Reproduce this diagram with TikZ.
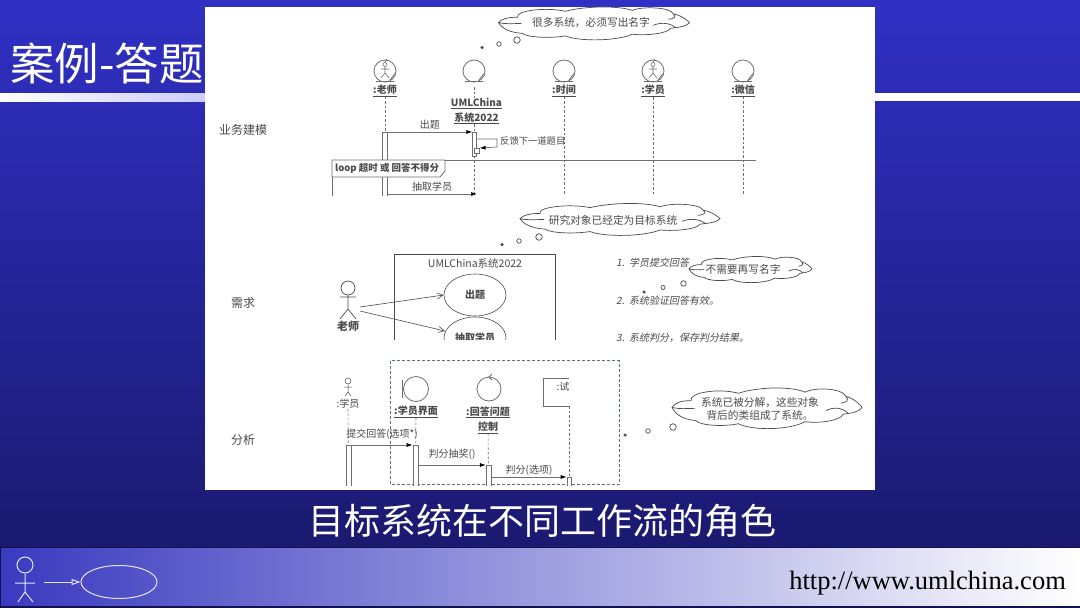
\documentclass[tikz,border=0pt]{standalone}
\usepackage{fontspec}
\usepackage{xcolor}
\usetikzlibrary{arrows.meta,positioning,calc,shapes.geometric}
\setmainfont{Noto Sans CJK SC}
\newfontfamily\slantcjk[FakeSlant=0.2]{Noto Sans CJK SC}
\newfontfamily\urlfont{Liberation Serif}
\definecolor{umlink}{HTML}{4A4A4A}
\definecolor{umlline}{HTML}{6E6E6E}
\definecolor{umldash}{HTML}{5F7080}
\definecolor{slidetop}{HTML}{3030C4}
\definecolor{slidebot}{HTML}{1A1A70}
\definecolor{footleft}{HTML}{3A3AC0}
\definecolor{footmid}{HTML}{A8A8E4}
\definecolor{footedge}{HTML}{12124E}
\definecolor{logoline}{HTML}{E4E4F8}
\newcommand{\fsz}[1]{\fontsize{#1}{#1}\selectfont}
\newcommand{\thinkpath}{(-1,-.08) .. controls (-.97,-.3) and (-.9,-.4) .. (-.8,-.4)
  .. controls (-.82,-.8) and (-.5,-1) .. (-.3,-.75)
  .. controls (-.1,-1.05) and (.25,-1.1) .. (.4,-.8)
  .. controls (.5,-1.05) and (.8,-1) .. (.83,-.6)
  .. controls (.92,-.5) and (.98,-.2) .. (1,-.08)
  .. controls (.98,.1) and (.9,.2) .. (.8,.25)
  .. controls (.78,.55) and (.55,.7) .. (.4,.6)
  .. controls (.25,1) and (-.15,1.05) .. (-.3,.7)
  .. controls (-.45,.85) and (-.7,.8) .. (-.75,.55)
  .. controls (-.9,.5) and (-.97,.2) .. (-1,-.08) -- cycle
  (-1,-.08) .. controls (-.92,.02) and (-.85,-.03) .. (-.76,-.03)
  (.62,.08) .. controls (.7,-.12) and (.8,-.06) .. (.85,.2)
  (.83,-.6) .. controls (.87,-.42) and (.84,-.32) .. (.78,-.28)}

\begin{document}
\begin{tikzpicture}[
    x=1pt, y=-1pt,
    cloudline/.style={draw=umlink, fill=white, line width=.7pt},
    cloudtext/.style={text=umlink, font=\fsz{10.7}, align=center, inner sep=0pt},
    bubble/.style={circle, draw=umlink, fill=white, inner sep=0pt, line width=.7pt},
    lifeline/.style={draw=umlline, dashed, dash pattern=on 2.5pt off 2pt, line width=.6pt},
    act/.style={rectangle, draw=umlline, fill=white, line width=.7pt, anchor=north, minimum width=5pt, inner sep=0pt},
    msg/.style={draw=umlline, line width=.7pt, -{Latex[length=6pt,width=4pt,color=black]}},
    uc/.style={ellipse, draw=umlink, fill=white, line width=.6pt},
    objname/.style={text=umlink, font=\bfseries\fsz{10}, inner sep=0pt},
    msgtext/.style={text=umlink, font=\fsz{10}, inner sep=0pt},
    rowlabel/.style={text=umlink, font=\fsz{12}, inner sep=0pt},
    steptext/.style={text=umlink, font=\slantcjk\fsz{10}, inner sep=0pt, anchor=west},
    objcircle/.style={circle, draw=umlline, line width=.8pt, minimum size=22pt, inner sep=0pt}
]
    % Background
    \useasboundingbox (0,0) rectangle (1080,608);
    \fill[top color=slidetop, bottom color=slidebot] (0,0) rectangle (1080,547);
    \fill[left color=white, right color=white!80!blue] (0,93) rectangle (205,101);
    \fill[white] (875,93) rectangle (1080,101);
    \fill[footedge] (0,547) rectangle (1080,608);
    \fill[left color=footleft, middle color=footmid, right color=white] (1,548) rectangle (1080,605);
    \node[text=white, font=\fsz{44.5}, anchor=west, inner sep=0pt] (title) at (10,63) {案例-答题};
    \node[text=white, font=\fsz{36}, inner sep=0pt] (caption) at (542,521) {目标系统在不同工作流的角色};
    \node[text=black, font=\urlfont\fsz{26.5}, anchor=east, inner sep=0pt] (url) at (1066,583) {http://www.umlchina.com};

    % Footer figure
    \node[circle, draw=logoline, line width=1pt, minimum size=16pt, inner sep=0pt] (logohead) at (25,565) {};
    \coordinate (logoneck) at (25,592);
    \draw[logoline, line width=1pt] (logohead) -- (logoneck) -- (18,602) (logoneck) -- (33,602) (15,583) -- (35,583);
    \node[ellipse, draw=logoline, line width=1pt, minimum width=76pt, minimum height=33pt, inner sep=0pt] (logocase) at (119,582) {};
    \coordinate (logotail) at (44,582);
    \draw[logoline, line width=1pt, -{Triangle[open,length=9pt,width=6pt]}] (logotail) -- (logocase);

    % Panel
    \fill[white] (205,7) rectangle (875,490);
    \node[rowlabel] (rowbiz) at (243,130) {业务建模};
    \node[rowlabel] (rowreq) at (243,303) {需求};
    \node[rowlabel] (rowana) at (243,440) {分析};

    % Business modelling
    \begin{scope}
    \clip (205,7) rectangle (875,195.5);
    \node[objcircle] (teacher) at (385,71) {};
    \node[objcircle] (system) at (474,71) {};
    \node[objcircle] (timer) at (564,71) {};
    \node[objcircle] (student) at (653,71) {};
    \node[objcircle] (wechat) at (743,71) {};
    \draw[umlline, line width=.8pt] (376,81.5) -- (394,81.5) (390,80) -- (395,73.5) (465,81.5) -- (483,81.5) (479,80) -- (484,73.5)
        (555,81.5) -- (573,81.5) (569,80) -- (574,73.5) (644,81.5) -- (662,81.5) (658,80) -- (663,73.5) (734,81.5) -- (752,81.5) (748,80) -- (753,73.5);
    \draw[umlline, line width=.6pt] (385,64.5) circle (2pt) (385,66.5) -- (385,73) -- (381,78) (385,73) -- (389,78) (381,69) -- (389,69) (387,59) -- (385,62.5);
    \draw[umlline, line width=.6pt] (653,64.5) circle (2pt) (653,66.5) -- (653,73) -- (649,78) (653,73) -- (657,78) (649,69) -- (657,69) (655,59) -- (653,62.5);
    \node[objname] (teachername) at (385,91) {\underline{:老师}};
    \node[objname, align=center] (systemname) at (476.5,111) {\underline{UMLChina}\\[3pt]\underline{系统2022}};
    \node[objname] (timername) at (564,91) {\underline{:时间}};
    \node[objname] (studentname) at (653,91) {\underline{:学员}};
    \node[objname] (wechatname) at (743,91) {\underline{:微信}};
    \coordinate (systemtop) at (474,87);
    \coordinate (teacherend) at (385,196);
    \coordinate (systemend) at (474,196);
    \coordinate (timerend) at (564,196);
    \coordinate (studentend) at (653,196);
    \coordinate (wechatend) at (743,196);
    \draw[lifeline] (teachername) -- (teacherend);
    \draw[lifeline] (systemtop) -- (systemname.north -| systemtop);
    \draw[lifeline] (systemname.south -| systemtop) -- (systemend);
    \draw[lifeline] (timername) -- (timerend);
    \draw[lifeline] (studentname) -- (studentend);
    \draw[lifeline] (wechatname) -- (wechatend);
    \node[act, minimum height=70pt] (actteacher) at (384.5,132) {};
    \node[act, minimum width=4pt, minimum height=24pt] (actsystem) at (474.7,132) {};
    \node[act, minimum height=5pt] (actself) at (476.7,148) {};
    \draw[msg] (actteacher.north east) -- node[msgtext, above=2pt] {出题} (actsystem.north west);
    \coordinate (selfa) at (497,139);
    \coordinate (selfb) at (497,147);
    \draw[msg] (actsystem.east |- selfa) -- (selfa) -- (selfb) -- (actself.north east);
    \node[msgtext, font=\fsz{9.3}, anchor=west] (selflabel) at (500,141) {反馈下一道题目};
    \coordinate (looplt) at (332,160);
    \coordinate (looprt) at (756,160);
    \coordinate (loopbt) at (332,196);
    \draw[umlline, line width=.8pt] (looprt) -- (looplt) -- (loopbt);
    \draw[umlline, line width=.8pt, fill=white] (332,177) -- (440,177) -- (445,171) -- (445,160) -- (332,160) -- cycle;
    \node[text=umlink, font=\bfseries\fsz{9.5}, anchor=west, inner sep=0pt] (looplabel) at (335,168.5) {loop 超时 或 回答不得分};
    \coordinate (drawstudent) at (477,194);
    \draw[msg] (actteacher.east |- drawstudent) -- node[msgtext, above=2pt] {抽取学员} (drawstudent);
    \end{scope}

    % Cloud 1
    \draw[cloudline, shift={(594,24)}, xscale=95.5, yscale=17] \thinkpath;
    \node[cloudtext] (cloudname) at (591,23) {很多系统，必须写出名字};
    \node[bubble, minimum size=6.5pt] (bnameA) at (517,40) {};
    \node[bubble, minimum size=4.5pt] (bnameB) at (499,44) {};
    \node[bubble, minimum size=2.5pt, fill=umlink] (bnameC) at (482,47.5) {};

    % Requirement
    \begin{scope}
    \clip (205,200) rectangle (875,339.5);
    \draw[umlink, line width=.6pt] (394,340) -- (394,254) -- (555,254) -- (555,340);
    \node[text=umlink, font=\fsz{10.5}, inner sep=0pt] (boxtitle) at (475,263) {UMLChina系统2022};
    \node[uc, minimum width=62pt, minimum height=42pt, font=\bfseries\fsz{10}, text=umlink, inner sep=0pt] (casequest) at (475,295) {出题};
    \node[uc, minimum width=62pt, minimum height=42pt, font=\bfseries\fsz{10}, text=umlink, inner sep=0pt] (casedraw) at (475,338) {抽取学员};
    \node[circle, draw=umlink, line width=.7pt, minimum size=14pt, inner sep=0pt] (reqhead) at (348,288) {};
    \coordinate (reqhip) at (348,309);
    \draw[umlink, line width=.7pt] (reqhead) -- (reqhip) -- (340,319) (reqhip) -- (356,319) (340,297) -- (356,297);
    \node[text=umlink, font=\bfseries\fsz{11}, inner sep=0pt] (reqname) at (348,326) {老师};
    \coordinate (reqfrom) at (360,307);
    \coordinate (reqfromb) at (360,311);
    \draw[umlink, line width=.6pt, -{Straight Barb[length=6pt,width=6pt]}] (reqfrom) -- (casequest.west);
    \draw[umlink, line width=.6pt, -{Straight Barb[length=6pt,width=6pt]}] (reqfromb) -- (445,331);
    \end{scope}
    \node[steptext] (stepa) at (616,263) {1.\ \ 学员提交回答};
    \node[steptext] (stepb) at (616,301) {2.\ \ 系统验证回答有效。};
    \node[steptext] (stepc) at (616,338) {3.\ \ 系统判分，保存判分结果。};

    % Cloud 2 and 3
    \draw[cloudline, shift={(620,220)}, xscale=100, yscale=16.5] \thinkpath;
    \node[cloudtext] (cloudtarget) at (613,220) {研究对象已经定为目标系统};
    \node[bubble, minimum size=6.5pt] (btargetA) at (539,237) {};
    \node[bubble, minimum size=4.5pt] (btargetB) at (519,241) {};
    \node[bubble, minimum size=2.5pt, fill=umlink] (btargetC) at (502,244.5) {};
    \draw[cloudline, shift={(750.5,270)}, xscale=61.5, yscale=13.5] \thinkpath;
    \node[cloudtext] (cloudrewrite) at (743,269.5) {不需要再写名字};
    \node[bubble, minimum size=5.5pt] (brewriteA) at (683.5,283.5) {};
    \node[bubble, minimum size=4pt] (brewriteB) at (663,287.5) {};
    \node[bubble, minimum size=2.5pt, fill=umlink] (brewriteC) at (644,292) {};

    % Analysis
    \begin{scope}
    \clip (205,345) rectangle (875,485.5);
    \draw[umldash, dashed, dash pattern=on 3pt off 2pt, line width=.8pt] (390,360.5) rectangle (619,484);
    \node[circle, draw=umlink, line width=.5pt, minimum size=6pt, inner sep=0pt] (anahead) at (348,381) {};
    \coordinate (anahip) at (348,392);
    \draw[umlink, line width=.5pt] (anahead) -- (anahip) -- (345,396) (anahip) -- (351,396) (344,387) -- (352,387);
    \node[msgtext] (ananame) at (348,404) {:学员};
    \node[objcircle, minimum size=25pt] (boundary) at (416,389) {};
    \draw[umlline, line width=.8pt] (402,380) -- (402,398) (402,389) -- (boundary.west);
    \node[objname] (boundaryname) at (416,412) {\underline{:学员界面}};
    \node[objcircle, minimum size=24pt] (control) at (489,389) {};
    \draw[umlline, line width=.8pt] (492,374) -- (489,377) -- (492,380);
    \node[objname, align=center] (controlname) at (488,420) {\underline{:回答问题}\\[3pt]\underline{控制}};
    \coordinate (entitytr) at (569,378);
    \coordinate (entitybr) at (569,406);
    \coordinate (entityend) at (569,486);
    \draw[umlline, line width=.8pt] (entitytr) -- (543,378) -- (543,406) -- (entitybr);
    \draw[lifeline] (entitybr) -- (entityend);
    \node[msgtext] (entityname) at (563,387) {:试};
    \coordinate (anaend) at (348.5,486);
    \coordinate (boundaryend) at (415.5,486);
    \coordinate (controlend) at (488.5,486);
    \draw[lifeline] (ananame) -- (anaend);
    \draw[lifeline] (boundaryname) -- (boundaryend);
    \draw[lifeline] (controlname) -- (controlend);
    \node[act, minimum height=45pt] (actana) at (348.5,445) {};
    \node[act, minimum height=45pt] (actboundary) at (415.5,445) {};
    \node[act, minimum height=25pt] (actcontrol) at (488.7,465) {};
    \node[act, minimum height=15pt, minimum width=4pt] (actentity) at (569,477) {};
    \draw[msg] (actana.north east) -- node[msgtext, above=5.5pt] {提交回答(选项*)} (actboundary.north west);
    \draw[msg] (actboundary.east |- actcontrol.north) -- node[msgtext, above=5pt] {判分抽奖()} (actcontrol.north west);
    \draw[msg] (actcontrol.east |- actentity.north) -- node[msgtext, above=1.5pt] {判分(选项)} (actentity.north west);
    \end{scope}

    % Cloud 4
    \draw[cloudline, shift={(767,409)}, xscale=95, yscale=21] \thinkpath;
    \node[cloudtext] (clouddecomp) at (760,409) {系统已被分解，这些对象\\[1.8pt]背后的类组成了系统。};
    \node[bubble, minimum size=6.5pt] (bdecompA) at (673,427) {};
    \node[bubble, minimum size=4.5pt] (bdecompB) at (648,431) {};
    \node[bubble, minimum size=2.5pt, fill=umlink] (bdecompC) at (625,435) {};
\end{tikzpicture}
\end{document}
